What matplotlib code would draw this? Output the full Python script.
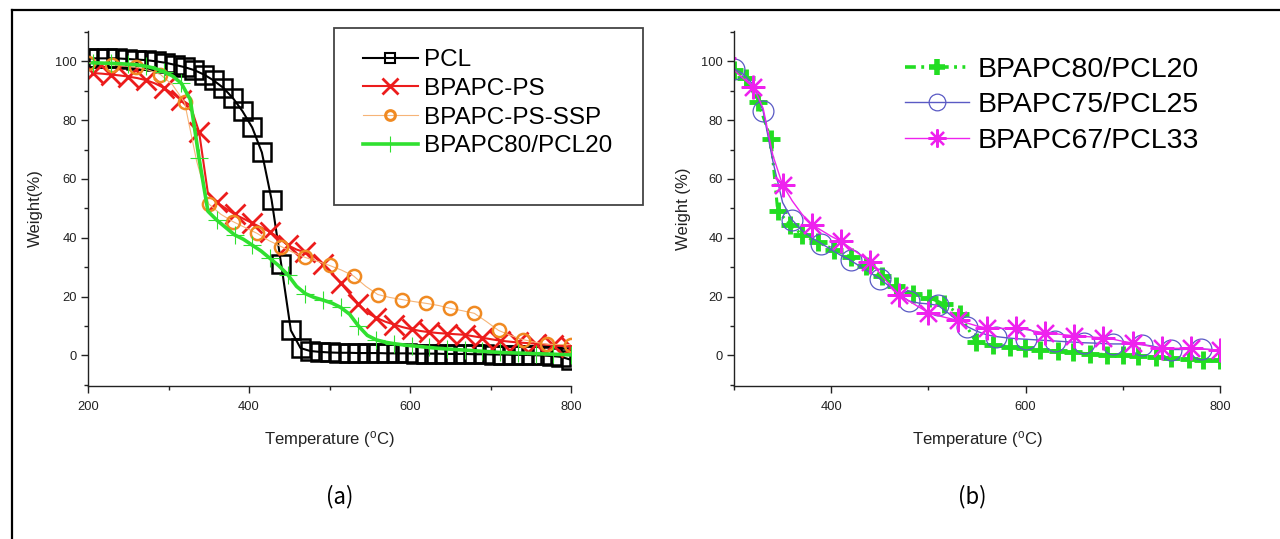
import matplotlib
matplotlib.use('Agg')
import matplotlib.pyplot as plt
from matplotlib.lines import Line2D
from matplotlib.patches import Rectangle
from matplotlib.ticker import MultipleLocator

plt.rcParams['font.family'] = ['Liberation Sans', 'DejaVu Sans']
plt.rcParams['mathtext.fontset'] = 'custom'
plt.rcParams['mathtext.rm'] = 'Liberation Sans'

# ---------------- data: panel (a) ----------------
T_pcl = [200, 212, 224, 236, 248, 260, 272, 284, 296, 308, 320, 332, 344, 356, 368, 380, 392,
         404, 416, 428, 440, 452, 464, 476, 488, 500, 512, 524, 536, 548, 560, 572, 584, 596,
         608, 620, 632, 644, 656, 668, 680, 692, 704, 716, 728, 740, 752, 764, 776, 788, 800]
W_pcl = [101, 101, 101, 101, 100.8, 100.6, 100.4, 100, 99.5, 98.8, 98, 97, 95.5, 93.5, 91, 87.5, 83,
         77.5, 69, 53, 31, 8.5, 2.5, 1.5, 1.2, 1, 0.9, 0.9, 0.8, 0.8, 0.8, 0.7, 0.7, 0.7,
         0.6, 0.6, 0.6, 0.5, 0.5, 0.5, 0.4, 0.4, 0.3, 0.3, 0.2, 0.2, 0.1, 0, -0.2, -0.5, -1.5]

T_ps = [206, 217, 228, 239, 250, 261, 272, 283, 294, 305, 316, 327, 338, 349, 360, 371, 382, 393,
        404, 415, 426, 437, 448, 459, 470, 481, 492, 503, 514, 525, 536, 547, 558, 569, 580, 591,
        602, 613, 624, 635, 646, 657, 668, 679, 690, 701, 712, 723, 734, 745, 756, 767, 778, 789, 800]
W_ps = [96, 95.8, 95.5, 95.2, 94.8, 94.3, 93.6, 92.5, 91, 89, 87, 85, 76, 55, 52, 50, 48, 46.5,
        45, 43.5, 42, 40, 37.5, 36, 35, 33.5, 31, 28, 24.5, 21, 17.5, 14.5, 12.8, 11.5, 10.5, 9.6,
        8.9, 8.3, 7.9, 7.6, 7.4, 7.2, 7, 6.5, 6, 5.5, 5, 4.7, 4.4, 4.2, 4, 3.7, 3.4, 3.2, 3]

T_ssp = [200, 215, 230, 245, 260, 275, 290, 305, 320, 335, 350, 365, 380, 395, 410, 425, 440,
         455, 470, 485, 500, 515, 530, 545, 560, 575, 590, 605, 620, 635, 650, 665, 680, 695,
         710, 725, 740, 755, 770, 785, 800]
W_ssp = [99.5, 99.2, 98.8, 98.4, 98, 97, 95.5, 92, 86, 66, 51.5, 48, 45.5, 43.5, 41.5, 39, 37,
         35, 33.3, 32, 30.6, 29, 27, 23.5, 20.7, 19.7, 19, 18.3, 17.7, 17, 16, 15.2, 14.3, 11.5,
         8.5, 6.8, 5.4, 4.5, 3.8, 3.7, 3.7]

T_b80a = T_ps
W_b80a = [99.5, 99.4, 99.3, 99.2, 99, 98.8, 98.3, 97.6, 96.5, 95, 92.5, 87, 67, 49, 46, 43.5, 41, 39.5,
          37.5, 35.5, 33, 30.5, 27.5, 23.5, 21, 19.7, 18.8, 17.8, 16.3, 14, 10, 6.8, 5.3, 4.5, 4, 3.6,
          3.3, 3, 2.7, 2.4, 2.2, 2, 1.8, 1.6, 1.4, 1.2, 1, 0.9, 0.8, 0.7, 0.6, 0.5, 0.4, 0.3, 0.2]

labels_a = ['PCL', 'BPAPC-PS', 'BPAPC-PS-SSP', 'BPAPC80/PCL20']

# ---------------- data: panel (b) ----------------
T_b80 = [300, 312, 325, 338, 345, 358, 370, 386, 403, 420, 436, 452, 467, 484, 501, 516, 532,
         549, 566, 584, 599, 615, 633, 649, 666, 684, 700, 716, 734, 750, 768, 783, 800]
W_b80 = [97, 94.3, 86, 73.5, 49, 44.5, 41, 38.5, 36, 33.5, 30.5, 27, 23.5, 21, 19.6, 17.5, 14,
         4.5, 3.5, 3, 2.5, 2, 1.5, 1, 0.5, 0.3, 0, -0.3, -0.5, -1, -1.3, -1.5, -1.5]

T_b75 = [300, 310, 320, 330, 340, 350, 360, 370, 380, 390, 400, 410, 420, 430, 440, 450, 460,
         470, 480, 490, 500, 510, 520, 530, 540, 550, 560, 570, 580, 590, 600, 610, 620, 630,
         640, 650, 660, 670, 680, 690, 700, 710, 720, 730, 740, 750, 760, 770, 780, 790, 800]
W_b75 = [97.5, 95.5, 92, 83, 66, 52, 46, 42.5, 40, 38, 36, 34, 32.3, 30.2, 28.2, 26, 23.5,
         20.8, 18.5, 17.8, 17.5, 17, 14.5, 11.8, 9.8, 8.2, 7, 6.4, 6, 5.7, 5.5, 5.3, 5.1, 4.9,
         4.7, 4.5, 4.3, 4.2, 4, 3.9, 3.9, 3.8, 3.7, 3.2, 2.5, 2, 2, 2.1, 2.2, 2, 1.8]

T_b67 = [290, 300, 310, 320, 330, 340, 350, 360, 370, 380, 390, 400, 410, 420, 430, 440, 450,
         460, 470, 480, 490, 500, 510, 520, 530, 540, 550, 560, 570, 580, 590, 600, 610, 620,
         630, 640, 650, 660, 670, 680, 690, 700, 710, 720, 730, 740, 750, 760, 770, 780, 790, 800]
W_b67 = [101, 97, 94, 91.3, 84, 68, 58, 52.5, 48, 44.5, 42.5, 40.5, 38.8, 36.5, 34.2, 31.8, 28,
         24, 20.5, 18.5, 16.5, 14.5, 13.5, 12.7, 12, 11, 10, 9.3, 9.2, 9.2, 9.2, 8.8, 8.2, 7.7,
         7.4, 7, 6.7, 6.5, 6.2, 6, 5.5, 4.8, 4.2, 3.6, 3, 2.4, 2.4, 2.4, 2.4, 2.2, 2, 1.8]

labels_b = ['BPAPC80/PCL20', 'BPAPC75/PCL25', 'BPAPC67/PCL33']

# ---------------- figure ----------------
W_PX, H_PX = 1280, 539
fig = plt.figure(figsize=(12.8, 5.39), dpi=100)

def fx(px):
    return px / W_PX

def fy(py):
    return 1 - py / H_PX

ax1 = fig.add_axes([fx(88), fy(386), fx(571) - fx(88), fy(31) - fy(386)])
ax2 = fig.add_axes([fx(734), fy(386), fx(1220) - fx(734), fy(31) - fy(386)])

C_RED = '#ec1c1c'
C_ORG = '#f08a22'
C_ORG_L = '#f6b477'
C_GRN = '#30e030'
C_GRN2 = '#22dd22'
C_BLU = '#5a5ac4'
C_MAG = '#ee22ee'

# panel (a)
ax1.plot(T_pcl, W_pcl, color='black', lw=1.5, marker='s', ms=12.5, mfc='none', mec='black', mew=1.8)
ax1.plot(T_ps, W_ps, color=C_RED, lw=1.5, marker='x', ms=15, mec=C_RED, mew=2.0, markevery=2)
ax1.plot(T_ssp, W_ssp, color=C_ORG_L, lw=0.8, marker='o', ms=9.5, mfc='none', mec=C_ORG, mew=1.8, markevery=2)
ax1.plot(T_b80a, W_b80a, color=C_GRN, lw=2.6, marker='+', ms=13, mec=C_GRN, mew=0.8, markevery=2)

# panel (b)
ls_dd = (0, (3, 1.5, 0.8, 1.5, 0.8, 1.5))
ax2.plot(T_b80, W_b80, color=C_GRN2, lw=2.2, ls=ls_dd, marker='+', ms=13, mec=C_GRN2, mew=3.5)
ax2.plot(T_b75, W_b75, color=C_BLU, lw=1.0, marker='o', ms=15, mfc='none', mec=C_BLU, mew=0.9, markevery=3)
ax2.plot(T_b67, W_b67, color=C_MAG, lw=1.0, marker=(8, 2, 0), ms=17, mec=C_MAG, mew=1.6, markevery=3)

for ax, xl in ((ax1, (200, 800)), (ax2, (300, 800))):
    ax.set_xlim(*xl)
    ax.set_ylim(-10.4, 110.3)
    for s in ('top', 'right'):
        ax.spines[s].set_visible(False)
    for s in ('left', 'bottom'):
        ax.spines[s].set_linewidth(1.0)
        ax.spines[s].set_color('#222222')
    ax.xaxis.set_major_locator(MultipleLocator(200))
    ax.xaxis.set_minor_locator(MultipleLocator(100))
    ax.yaxis.set_major_locator(MultipleLocator(20))
    ax.yaxis.set_minor_locator(MultipleLocator(10))
    ax.tick_params(which='major', direction='out', length=5, width=1, labelsize=9.3,
                   colors='#222222', pad=3)
    ax.tick_params(axis='x', which='major', pad=6)
    ax.tick_params(which='minor', direction='out', length=3, width=1, colors='#222222')
    ax.set_xlabel('Temperature ($\\mathrm{^{o}}$C)', fontsize=12, color='#222222', labelpad=11)

ax1.set_ylabel('Weight(%)', fontsize=12, color='#222222', labelpad=9)
ax2.set_ylabel('Weight (%)', fontsize=12, color='#222222', labelpad=7)

# legend (a)
h_a = [Line2D([], [], color='black', lw=1.5, marker='s', ms=6.5, mfc='none', mec='black', mew=1.5),
       Line2D([], [], color=C_RED, lw=1.5, marker='x', ms=11, mec=C_RED, mew=2.0),
       Line2D([], [], color=C_ORG_L, lw=0.8, marker='o', ms=7, mfc='none', mec=C_ORG, mew=2.2),
       Line2D([], [], color=C_GRN, lw=2.6, marker='+', ms=12, mec=C_GRN, mew=0.8)]
fig.legend(h_a, labels_a, loc='upper left', bbox_to_anchor=(fx(363), fy(49)),
           frameon=False, fontsize=17.5, handlelength=2.25, handletextpad=0.25,
           labelspacing=0.28, borderpad=0, borderaxespad=0)
fig.add_artist(Rectangle((fx(334), fy(205)), fx(643) - fx(334), fy(28) - fy(205),
                         transform=fig.transFigure, fill=False, ec='#444444', lw=1.3))

# legend (b)
h_b = [Line2D([], [], color=C_GRN2, lw=2.6, ls=ls_dd, marker='+', ms=12, mec=C_GRN2, mew=4),
       Line2D([], [], color=C_BLU, lw=1.0, marker='o', ms=12, mfc='none', mec=C_BLU, mew=0.9),
       Line2D([], [], color=C_MAG, lw=1.0, marker=(8, 2, 0), ms=13, mec=C_MAG, mew=1.6)]
fig.legend(h_b, labels_b, loc='upper left', bbox_to_anchor=(fx(905), fy(57)),
           frameon=False, fontsize=20.5, handlelength=2.25, handletextpad=0.3,
           labelspacing=0.33, borderpad=0, borderaxespad=0)

# panel labels
fig.text(fx(340), fy(497), '(a)', ha='center', va='center', fontsize=16,
         family=['Noto Sans CJK KR', 'DejaVu Sans'])
fig.text(fx(972), fy(497), '(b)', ha='center', va='center', fontsize=16,
         family=['Noto Sans CJK KR', 'DejaVu Sans'])

# outer frame lines
fig.add_artist(Line2D([fx(12), 1.0], [fy(10), fy(10)], transform=fig.transFigure, color='black', lw=1.6))
fig.add_artist(Line2D([fx(12), fx(12)], [0.0, fy(10)], transform=fig.transFigure, color='black', lw=1.6))

fig.savefig('out.png', dpi=100)
